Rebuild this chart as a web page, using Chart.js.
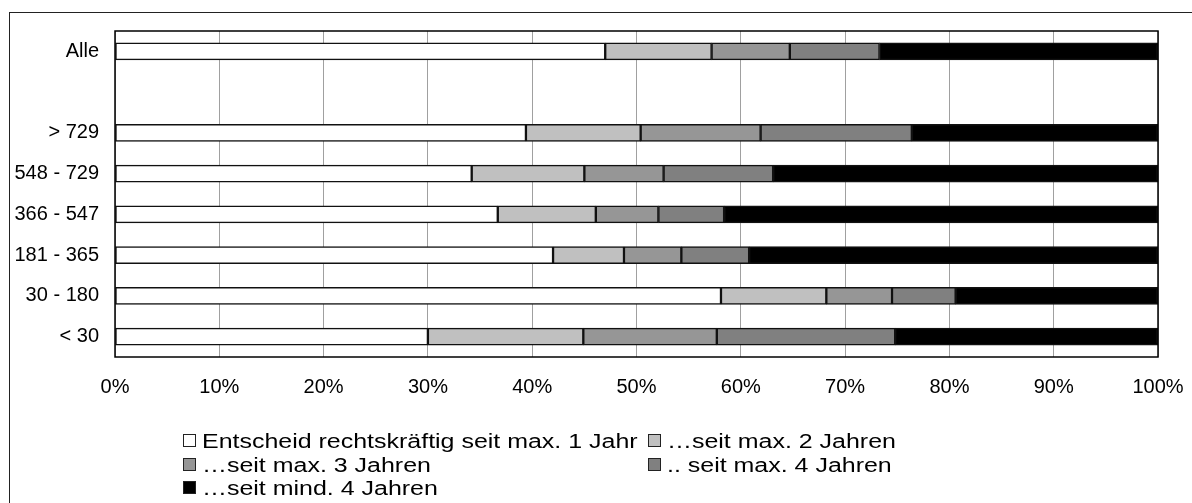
<!DOCTYPE html>
<html>
<head>
<meta charset="utf-8">
<script src="https://cdn.jsdelivr.net/npm/chart.js@4/dist/chart.umd.min.js"></script>
<style>
  html, body { margin: 0; padding: 0; background: #fff; overflow: hidden; }
  #wrap { position: relative; width: 1192px; height: 503px; }
  #frame { position: absolute; left: 9px; top: 12px; width: 1200px; height: 600px; border: 1.5px solid #222; box-sizing: border-box; }
  canvas { position: absolute; left: 0; top: 0; }
  .lg { position: absolute; height: 24px; line-height: 24px; font-family: "Liberation Sans", Arial, sans-serif; font-size: 19.5px; color: #000; white-space: nowrap; }
  .lg .box { position: absolute; left: 0; top: 5px; width: 11px; height: 11px; border: 1.5px solid #222; }
  .lg .txt { position: absolute; left: 19px; top: 0; transform: scaleX(1.28); transform-origin: 0 50%; }
</style>
</head>
<body>
<div id="wrap">
  <div id="frame"></div>
  <canvas id="c" width="1192" height="503"></canvas>
</div>
<script>
const categories = ["Alle", "", "> 729", "548 - 729", "366 - 547", "181 - 365", "30 - 180", "< 30"];
const seriesLabels = [
  "Entscheid rechtskräftig seit max. 1 Jahr",
  "…seit max. 2 Jahren",
  "…seit max. 3 Jahren",
  ".. seit max. 4 Jahren",
  "…seit mind. 4 Jahren"
];
const seriesColors = ["#ffffff", "#c0c0c0", "#969696", "#808080", "#000000"];
const max1Jahr   = [47.0, null, 39.4, 34.2, 36.7, 42.0, 58.1, 30.0];
const max2Jahren = [10.2, null, 11.0, 10.8,  9.4,  6.8, 10.1, 14.9];
const max3Jahren = [ 7.5, null, 11.5,  7.6,  6.0,  5.5,  6.3, 12.8];
const max4Jahren = [ 8.6, null, 14.5, 10.5,  6.3,  6.5,  6.1, 17.1];
const mind4Jahren= [26.7, null, 23.6, 36.9, 41.6, 39.2, 19.4, 25.2];
const tickValues = [0, 10, 20, 30, 40, 50, 60, 70, 80, 90, 100];

const seriesData = [max1Jahr, max2Jahren, max3Jahren, max4Jahren, mind4Jahren];

const frameRect = {
  id: 'frameRect',
  afterDatasetsDraw(chart) {
    const a = chart.chartArea, ctx = chart.ctx;
    ctx.save();
    ctx.strokeStyle = '#000';
    ctx.lineWidth = 1.5;
    ctx.strokeRect(a.left, a.top, a.right - a.left, a.bottom - a.top);
    ctx.restore();
  }
};

const chart = new Chart(document.getElementById('c'), {
  type: 'bar',
  data: {
    labels: categories,
    datasets: seriesData.map((d, i) => ({
      label: seriesLabels[i],
      data: d,
      backgroundColor: seriesColors[i],
      borderColor: '#111',
      borderWidth: 1.5,
      borderSkipped: false,
      barThickness: 17
    }))
  },
  options: {
    indexAxis: 'y',
    responsive: false,
    animation: false,
    layout: { padding: { left: 0, top: 31, right: 34, bottom: 0 } },
    plugins: { legend: { display: false }, tooltip: { enabled: false } },
    scales: {
      x: {
        stacked: true,
        min: 0, max: 100,
        afterBuildTicks(s) { s.ticks = tickValues.map(v => ({ value: v })); },
        afterFit(s) { s.height = 146; s.paddingLeft = 0; s.paddingRight = 0; },
        grid: { color: '#a0a0a0', lineWidth: 1, drawTicks: false },
        border: { display: false },
        ticks: {
          padding: 18,
          color: '#000',
          font: { family: '"Liberation Sans", Arial, sans-serif', size: 20 },
          callback: v => v + '%',
          autoSkip: false,
          maxRotation: 0
        }
      },
      y: {
        stacked: true,
        afterFit(s) { s.width = 115; s.paddingTop = 0; s.paddingBottom = 0; },
        grid: { display: false, drawTicks: false },
        border: { display: false },
        ticks: {
          padding: 16,
          color: '#000',
          font: { family: '"Liberation Sans", Arial, sans-serif', size: 20 },
          autoSkip: false
        }
      }
    }
  },
  plugins: [frameRect]
});

// HTML legend built from datasets
const legendPos = [[183, 429], [648, 429], [183, 453], [648, 453], [183, 476]];
const wrap = document.getElementById('wrap');
chart.data.datasets.forEach((ds, i) => {
  const item = document.createElement('div');
  item.className = 'lg';
  item.style.left = legendPos[i][0] + 'px';
  item.style.top = legendPos[i][1] + 'px';
  const box = document.createElement('span');
  box.className = 'box';
  box.style.background = ds.backgroundColor;
  const txt = document.createElement('span');
  txt.className = 'txt';
  txt.textContent = ds.label;
  item.appendChild(box);
  item.appendChild(txt);
  wrap.appendChild(item);
});
</script>
</body>
</html>
